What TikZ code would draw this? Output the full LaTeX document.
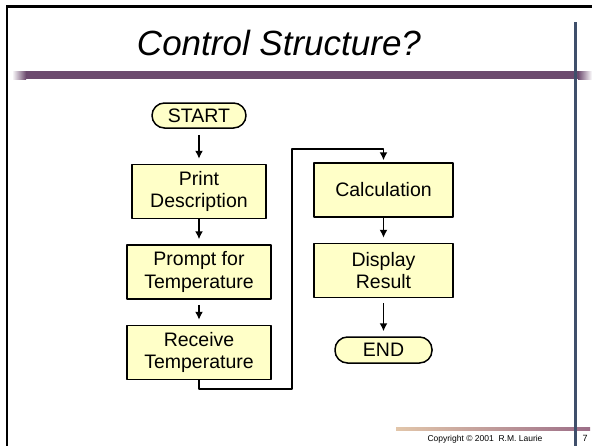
\documentclass[tikz,border=0pt]{standalone}
\usepackage{fontspec}
\setmainfont{Liberation Sans}
\usetikzlibrary{positioning,arrows.meta}
\definecolor{boxfill}{HTML}{FFFFC8}
\definecolor{plum}{HTML}{6C4A6E}
\definecolor{slate}{HTML}{3F4F6B}
\definecolor{tan}{HTML}{E2C6AA}
\definecolor{mauve}{HTML}{9C6E88}
\begin{document}
\begin{tikzpicture}[line join=round,
    proc/.style={draw,line width=1.5pt,fill=boxfill,minimum height=54pt,
      align=center,inner sep=0pt,font=\fontsize{19.5}{22.5}\selectfont},
    term/.style={draw,line width=1.5pt,fill=boxfill,rounded corners=12.5pt,
      minimum height=25pt,inner sep=0pt,font=\fontsize{19.5}{22.5}\selectfont},
    flow/.style={line width=1.5pt,-{Latex[length=8pt,width=8pt]},shorten >=5pt},
    x=1pt,y=-1pt]
  \fill[white] (0,0) rectangle (592,446);
  % slide frame
  \fill[black] (5.8,5) rectangle (592,8);
  \fill[black] (5.8,5) rectangle (8.4,446);
  \shade[left color=white,right color=plum] (12,71) rectangle (26,79);
  \fill[plum] (26,71) rectangle (578,79);
  \shade[left color=plum,right color=white] (578,71) rectangle (592,79);
  \shade[left color=tan,right color=mauve] (396,427) rectangle (590,430);
  \fill[slate] (574,22) rectangle (577,446);
  \node[anchor=base,font=\fontsize{35}{40}\selectfont\itshape] (title) at (279,55) {Control Structure?};
  \node[anchor=base east,font=\fontsize{8.5}{10}\selectfont] (copy) at (546,441) {Copyright \textcopyright{} 2001\ \ R.M. Laurie};
  \node[anchor=base,font=\fontsize{9}{10}\selectfont] (page) at (585,441) {7};
  % left column
  \node[term,minimum width=94pt] (start) at (199,115.5) {START};
  \node[proc,minimum width=134pt,below=35pt of start] (print) {Print\\Description};
  \node[proc,minimum width=144pt,below=25pt of print] (prompt) {Prompt for\\Temperature};
  \node[proc,minimum width=144pt,below=25pt of prompt] (recv) {Receive\\Temperature};
  % right column
  \node[proc,minimum width=139pt] (calc) at (383.5,190) {Calculation};
  \node[proc,minimum width=139pt,below=25pt of calc] (disp) {Display\\Result};
  \node[term,minimum width=97pt,minimum height=26pt,below=38pt of disp] (end) {END};
  \coordinate (lo) at (292,389);
  \coordinate (hi) at (292,149);
  \draw[flow,shorten <=6pt] (start) -- (print);
  \draw[flow] (print) -- (prompt);
  \draw[flow,shorten <=5pt] (prompt) -- (recv);
  \draw[flow,shorten >=2pt] (recv.south) |- (lo) -- (hi) -| (calc.north);
  \draw[flow] (calc) -- (disp);
  \draw[flow,shorten <=5pt] (disp) -- (end);
\end{tikzpicture}
\end{document}
